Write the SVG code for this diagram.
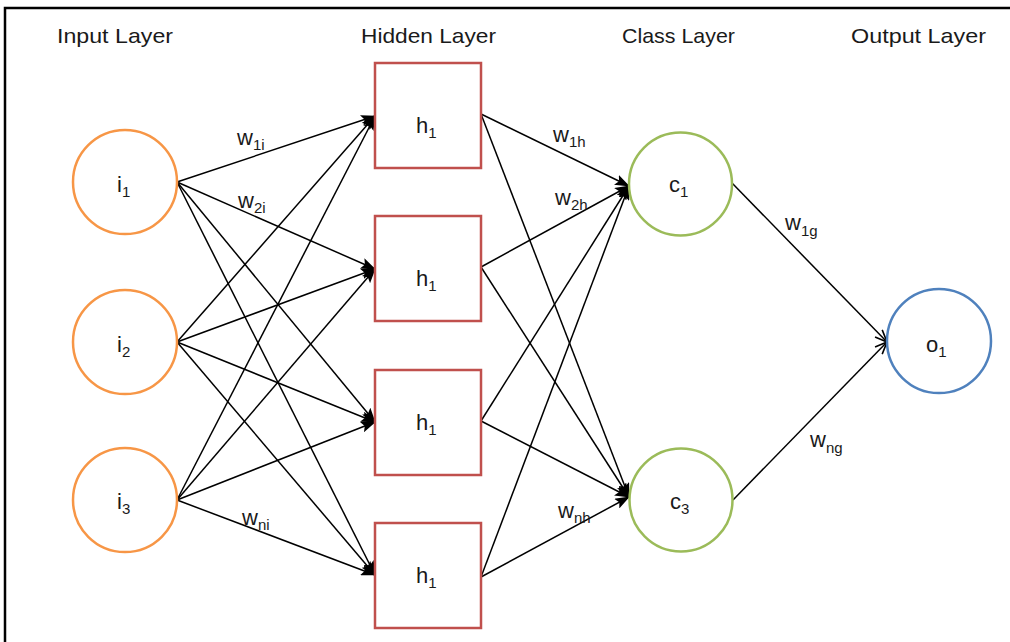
<svg xmlns="http://www.w3.org/2000/svg" width="1010" height="642" viewBox="0 0 1010 642">
<style>
text{font-family:"Liberation Sans",Arial,sans-serif;fill:#1a1a1a}
.title{font-size:21px}
.lbl{font-size:22px}
.sub{font-size:15px}
.w{font-size:22px}
.inp{fill:#fff;stroke:#F79646;stroke-width:2.5}
.hid{fill:#fff;stroke:#C0504D;stroke-width:2.5}
.cls{fill:#fff;stroke:#9BBB59;stroke-width:2.5}
.out{fill:#fff;stroke:#4F81BD;stroke-width:2.5}
.c{stroke:#000;stroke-width:1.5;fill:none}
.f{marker-end:url(#arrF)}
.o{marker-end:url(#arrO)}
</style>
<defs>
<marker id="arrF" markerUnits="userSpaceOnUse" viewBox="0 0 15 11" refX="14" refY="5.5" markerWidth="15" markerHeight="11" orient="auto">
<path d="M0,0 L15,5.5 L0,11 L3,5.5 Z" fill="#000"/>
</marker>
<marker id="arrO" markerUnits="userSpaceOnUse" viewBox="0 0 14 12" refX="13" refY="6" markerWidth="14" markerHeight="12" orient="auto">
<path d="M1,1 L13,6 L1,11" fill="none" stroke="#000" stroke-width="1.6"/>
</marker>
</defs>
<rect width="1010" height="642" fill="#fff"/>
<g id="frame">
<path d="M5,642 L5,8 L1010,8" fill="none" stroke="#000" stroke-width="2.5"/>
</g>
<g id="titles">
<text class="title" x="57" y="43" textLength="116" lengthAdjust="spacingAndGlyphs">Input Layer</text>
<text class="title" x="361" y="43" textLength="135" lengthAdjust="spacingAndGlyphs">Hidden Layer</text>
<text class="title" x="622" y="43" textLength="113" lengthAdjust="spacingAndGlyphs">Class Layer</text>
<text class="title" x="851" y="43" textLength="135" lengthAdjust="spacingAndGlyphs">Output Layer</text>
</g>
<g id="connectors">
<line class="c f" x1="177" y1="182" x2="375" y2="116"/>
<line class="c f" x1="177" y1="182" x2="375" y2="269"/>
<line class="c f" x1="177" y1="182" x2="375" y2="422"/>
<line class="c f" x1="177" y1="182" x2="375" y2="575"/>
<line class="c f" x1="177" y1="342" x2="375" y2="116"/>
<line class="c f" x1="177" y1="342" x2="375" y2="269"/>
<line class="c f" x1="177" y1="342" x2="375" y2="422"/>
<line class="c f" x1="177" y1="342" x2="375" y2="575"/>
<line class="c f" x1="177" y1="500" x2="375" y2="116"/>
<line class="c f" x1="177" y1="500" x2="375" y2="269"/>
<line class="c f" x1="177" y1="500" x2="375" y2="422"/>
<line class="c f" x1="177" y1="500" x2="375" y2="575"/>
<line class="c f" x1="481" y1="114" x2="629" y2="186"/>
<line class="c f" x1="481" y1="114" x2="629" y2="497"/>
<line class="c f" x1="481" y1="267" x2="629" y2="186"/>
<line class="c f" x1="481" y1="267" x2="629" y2="497"/>
<line class="c f" x1="481" y1="421" x2="629" y2="186"/>
<line class="c f" x1="481" y1="421" x2="629" y2="497"/>
<line class="c f" x1="481" y1="577" x2="629" y2="186"/>
<line class="c f" x1="481" y1="577" x2="629" y2="497"/>
<line class="c o" x1="732" y1="183" x2="887" y2="342"/>
<line class="c o" x1="733" y1="500" x2="887" y2="342"/>
<text class="w" x="237" y="145">w<tspan class="sub" dy="5">1i</tspan></text>
<text class="w" x="238" y="208">w<tspan class="sub" dy="5">2i</tspan></text>
<text class="w" x="242" y="525">w<tspan class="sub" dy="5">ni</tspan></text>
<text class="w" x="553" y="142">w<tspan class="sub" dy="5">1h</tspan></text>
<text class="w" x="555" y="205">w<tspan class="sub" dy="5">2h</tspan></text>
<text class="w" x="558" y="518">w<tspan class="sub" dy="5">nh</tspan></text>
<text class="w" x="785" y="230">w<tspan class="sub" dy="6">1g</tspan></text>
<text class="w" x="810" y="447">w<tspan class="sub" dy="6">ng</tspan></text>
</g>
<g id="i1"><circle class="inp" cx="125" cy="182" r="52"/><text class="lbl" x="117" y="192">i<tspan class="sub" dy="5">1</tspan></text></g>
<g id="i2"><circle class="inp" cx="125" cy="342" r="52"/><text class="lbl" x="117" y="352">i<tspan class="sub" dy="5">2</tspan></text></g>
<g id="i3"><circle class="inp" cx="125" cy="500" r="52"/><text class="lbl" x="117" y="509">i<tspan class="sub" dy="5">3</tspan></text></g>
<g id="h1a"><rect class="hid" x="375" y="63" width="106" height="105"/><text class="lbl" x="416" y="133">h<tspan class="sub" dy="5">1</tspan></text></g>
<g id="h1b"><rect class="hid" x="375" y="216" width="106" height="105"/><text class="lbl" x="416" y="286">h<tspan class="sub" dy="5">1</tspan></text></g>
<g id="h1c"><rect class="hid" x="375" y="370" width="106" height="105"/><text class="lbl" x="416" y="430">h<tspan class="sub" dy="5">1</tspan></text></g>
<g id="h1d"><rect class="hid" x="375" y="523" width="106" height="105"/><text class="lbl" x="416" y="583">h<tspan class="sub" dy="5">1</tspan></text></g>
<g id="c1"><circle class="cls" cx="680.5" cy="184" r="51.5"/><text class="lbl" x="669" y="192">c<tspan class="sub" dy="5">1</tspan></text></g>
<g id="c3"><circle class="cls" cx="681" cy="500" r="51.5"/><text class="lbl" x="670" y="509">c<tspan class="sub" dy="5">3</tspan></text></g>
<g id="o1"><circle class="out" cx="939" cy="341" r="52"/><text class="lbl" x="926" y="352">o<tspan class="sub" dy="5">1</tspan></text></g>
</svg>
